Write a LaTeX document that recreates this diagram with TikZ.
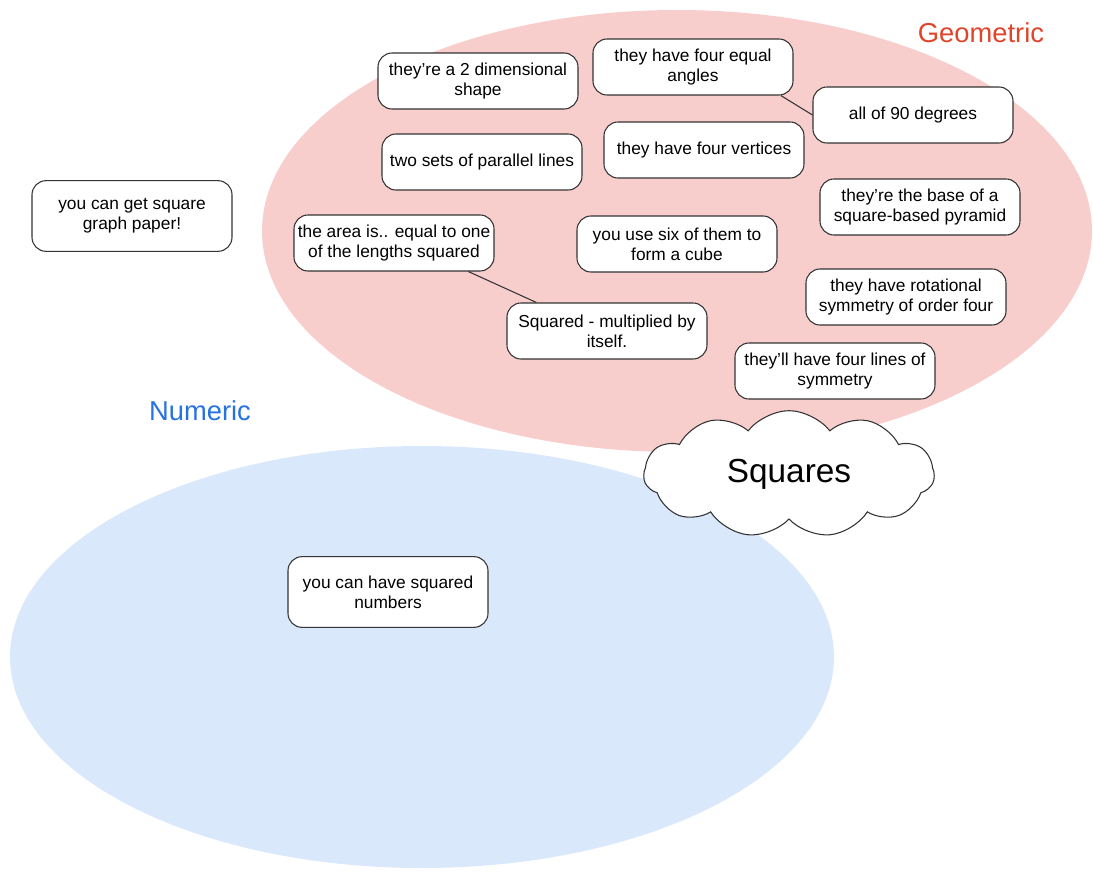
\documentclass[tikz,border=0pt]{standalone}
\usepackage{fontspec}
\setmainfont{Liberation Sans}
\usetikzlibrary{shapes.symbols}
\definecolor{geopink}{HTML}{F8CECC}
\definecolor{numblue}{HTML}{DAE8FC}
\definecolor{geored}{HTML}{E0452B}
\definecolor{numtext}{HTML}{2672E0}
\definecolor{boxline}{HTML}{333333}

\begin{document}
\begin{tikzpicture}[x=0.75pt,y=-0.75pt,
		idea/.style={draw=boxline,line width=0.8pt,fill=white,rounded corners=10.5pt,
			minimum width=150pt,minimum height=42pt,align=center,inner sep=1pt,
			font=\fontsize{13}{15}\selectfont},
		tallidea/.style={idea,minimum height=53pt},
		settitle/.style={font=\fontsize{20.5}{24}\selectfont}]
		\useasboundingbox (0,0) rectangle (1093,882);
		\fill[geopink] (677,231) ellipse [x radius=415,y radius=221];
		\fill[numblue] (422,657) ellipse [x radius=412,y radius=211];
		\node[settitle,text=geored] (geo) at (981,33) {Geometric};
		\node[settitle,text=numtext] (num) at (200,411) {Numeric};
		\node[idea] (dim) at (478,81) {they’re a 2 dimensional\\shape};
		\node[idea] (angles) at (693,67) {they have four equal\\angles};
		\node[idea] (ninety) at (913,115) {all of 90 degrees};
		\node[idea] (parallel) at (482,162) {two sets of parallel lines};
		\node[idea] (vertices) at (704,150) {they have four vertices};
		\node[tallidea] (paper) at (132,216) {you can get square\\graph paper!};
		\node[idea] (pyramid) at (920,207) {they’re the base of a\\square-based pyramid};
		\node[idea] (area) at (394,243) {the area is.. equal to one\\of the lengths squared};
		\node[idea] (cube) at (677,244) {you use six of them to\\form a cube};
		\node[idea] (rotation) at (906,297) {they have rotational\\symmetry of order four};
		\node[idea] (squared) at (607,331) {Squared - multiplied by\\itself.};
		\node[idea] (lines) at (835,371) {they’ll have four lines of\\symmetry};
		\node[tallidea] (numbers) at (388,592) {you can have squared\\numbers};
		\node[cloud,cloud puffs=11,cloud puff arc=105,cloud ignores aspect,draw=boxline,line width=0.8pt,fill=white,
			minimum width=218pt,minimum height=95pt,font=\fontsize{25}{30}\selectfont] (squares) at (789,474) {Squares};
		\draw[boxline,line width=0.8pt] (angles.-18) -- (ninety.west);
		\draw[boxline,line width=0.8pt] (area.-21) -- (squared.158);
\end{tikzpicture}
\end{document}
